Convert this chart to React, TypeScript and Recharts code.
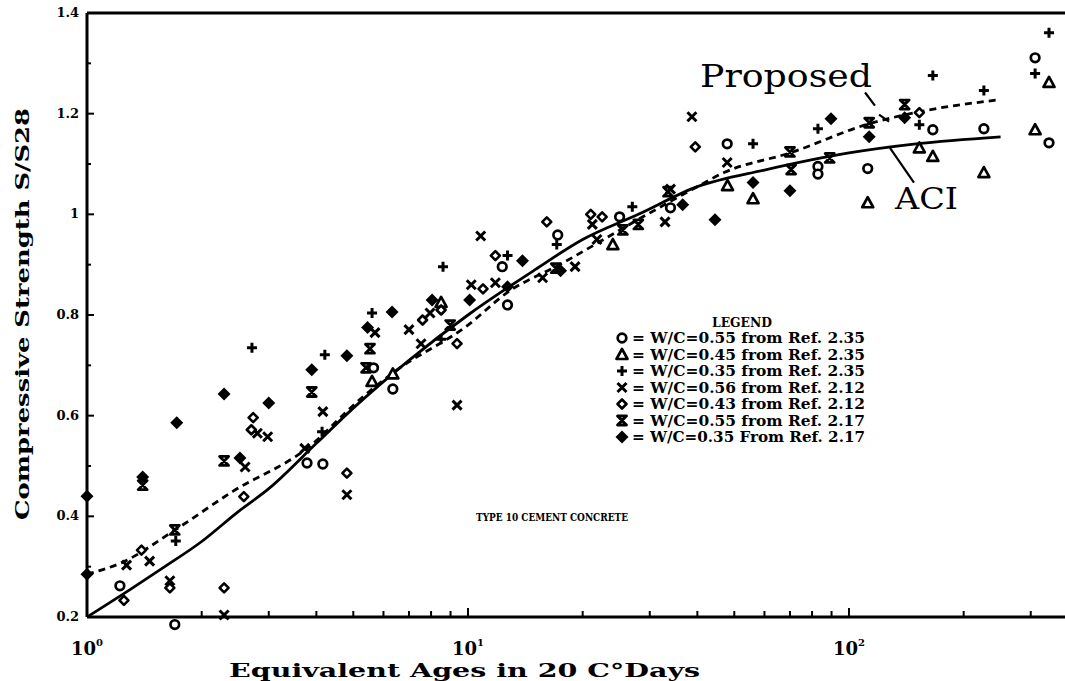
import React from "react";
import {
  ScatterChart,
  Scatter,
  XAxis,
  YAxis,
  ReferenceLine,
  ReferenceDot,
} from "recharts";

// equivalent age (days at 20 C) vs. relative strength S/S28
const wc055Ref235 = [
  { t: 1.22, s: 0.262 }, { t: 3.78, s: 0.506 }, { t: 4.16, s: 0.504 },
  { t: 5.65, s: 0.695 }, { t: 6.35, s: 0.653 }, { t: 12.3, s: 0.896 },
  { t: 12.7, s: 0.82 }, { t: 17.2, s: 0.959 }, { t: 25, s: 0.995 },
  { t: 34, s: 1.013 }, { t: 47.9, s: 1.14 }, { t: 82.9, s: 1.095 },
  { t: 82.9, s: 1.08 }, { t: 112, s: 1.091 }, { t: 166, s: 1.168 },
  { t: 226, s: 1.17 }, { t: 308, s: 1.311 }, { t: 335, s: 1.142 },
];
// one reading sits under the 0.2 line
const wc055Ref235Low = [{ t: 1.7, s: 0.185 }];

const wc045Ref235 = [
  { t: 5.6, s: 0.668 }, { t: 6.35, s: 0.683 }, { t: 8.5, s: 0.825 },
  { t: 24, s: 0.94 }, { t: 48, s: 1.057 }, { t: 56, s: 1.031 },
  { t: 112, s: 1.023 }, { t: 153, s: 1.132 }, { t: 166, s: 1.115 },
  { t: 226, s: 1.083 }, { t: 308, s: 1.168 }, { t: 335, s: 1.262 },
];

const wc035Ref235 = [
  { t: 1.71, s: 0.351 }, { t: 2.71, s: 0.735 }, { t: 4.21, s: 0.721 },
  { t: 4.14, s: 0.568 }, { t: 5.6, s: 0.804 }, { t: 8.6, s: 0.896 },
  { t: 8.5, s: 0.752 }, { t: 12.7, s: 0.918 }, { t: 17.1, s: 0.94 },
  { t: 27, s: 1.015 }, { t: 56, s: 1.14 }, { t: 82.9, s: 1.17 },
  { t: 153, s: 1.178 }, { t: 166, s: 1.276 }, { t: 226, s: 1.246 },
  { t: 308, s: 1.28 }, { t: 335, s: 1.361 },
];

const wc056Ref212 = [
  { t: 1.27, s: 0.303 }, { t: 1.46, s: 0.311 }, { t: 1.65, s: 0.272 },
  { t: 2.29, s: 0.204 }, { t: 2.6, s: 0.498 }, { t: 2.98, s: 0.558 },
  { t: 2.8, s: 0.565 }, { t: 3.73, s: 0.535 }, { t: 4.16, s: 0.608 },
  { t: 4.81, s: 0.443 }, { t: 5.7, s: 0.765 }, { t: 7.0, s: 0.771 },
  { t: 7.53, s: 0.743 }, { t: 7.95, s: 0.804 }, { t: 9.36, s: 0.621 },
  { t: 10.2, s: 0.86 }, { t: 10.8, s: 0.957 }, { t: 11.8, s: 0.864 },
  { t: 15.7, s: 0.874 }, { t: 19.1, s: 0.896 }, { t: 21.2, s: 0.98 },
  { t: 21.8, s: 0.95 }, { t: 32.9, s: 0.985 }, { t: 34, s: 1.05 },
  { t: 38.7, s: 1.194 }, { t: 47.9, s: 1.103 },
];

const wc043Ref212 = [
  { t: 1.39, s: 0.333 }, { t: 1.25, s: 0.233 }, { t: 1.65, s: 0.258 },
  { t: 2.29, s: 0.258 }, { t: 2.73, s: 0.596 }, { t: 2.7, s: 0.572 },
  { t: 2.58, s: 0.439 }, { t: 4.81, s: 0.486 }, { t: 7.6, s: 0.79 },
  { t: 8.5, s: 0.81 }, { t: 9.36, s: 0.743 }, { t: 10.95, s: 0.852 },
  { t: 11.8, s: 0.918 }, { t: 16.1, s: 0.985 }, { t: 21, s: 1.0 },
  { t: 22.5, s: 0.995 }, { t: 39.5, s: 1.134 }, { t: 153, s: 1.202 },
];

const wc055Ref217 = [
  { t: 1.4, s: 0.462 }, { t: 1.7, s: 0.373 }, { t: 2.29, s: 0.51 },
  { t: 3.89, s: 0.647 }, { t: 5.53, s: 0.733 }, { t: 5.4, s: 0.695 },
  { t: 8.98, s: 0.78 }, { t: 17.0, s: 0.893 }, { t: 25.5, s: 0.969 },
  { t: 28, s: 0.98 }, { t: 33.5, s: 1.045 }, { t: 70, s: 1.124 },
  { t: 70.5, s: 1.089 }, { t: 89, s: 1.112 }, { t: 113, s: 1.182 },
  { t: 140, s: 1.218 },
];

const wc035Ref217 = [
  { t: 1, s: 0.44 }, { t: 1, s: 0.285 }, { t: 1.4, s: 0.478 },
  { t: 1.72, s: 0.586 }, { t: 2.29, s: 0.643 }, { t: 2.52, s: 0.516 },
  { t: 3.0, s: 0.625 }, { t: 3.89, s: 0.691 }, { t: 4.81, s: 0.719 },
  { t: 5.45, s: 0.775 }, { t: 6.32, s: 0.806 }, { t: 8.05, s: 0.83 },
  { t: 10.1, s: 0.83 }, { t: 12.7, s: 0.856 }, { t: 13.9, s: 0.908 },
  { t: 17.5, s: 0.888 }, { t: 36.6, s: 1.019 }, { t: 44.5, s: 0.989 },
  { t: 56, s: 1.063 }, { t: 70, s: 1.047 }, { t: 89.7, s: 1.19 },
  { t: 113, s: 1.154 }, { t: 140, s: 1.192 },
];

// strength-gain curves
const aciCurve = [
  { t: 1, s: 0.2 }, { t: 1.3, s: 0.255 }, { t: 1.6, s: 0.3 },
  { t: 2, s: 0.35 }, { t: 2.5, s: 0.41 }, { t: 3, s: 0.455 },
  { t: 4, s: 0.545 }, { t: 5, s: 0.615 }, { t: 7, s: 0.71 },
  { t: 10, s: 0.8 }, { t: 15, s: 0.89 }, { t: 20, s: 0.95 },
  { t: 28, s: 1.0 }, { t: 40, s: 1.055 }, { t: 60, s: 1.088 },
  { t: 100, s: 1.122 }, { t: 150, s: 1.14 }, { t: 250, s: 1.154 },
];

const proposedCurve = [
  { t: 1, s: 0.285 }, { t: 1.25, s: 0.31 }, { t: 1.68, s: 0.37 },
  { t: 2.42, s: 0.45 }, { t: 3.78, s: 0.535 }, { t: 5.2, s: 0.632 },
  { t: 6.35, s: 0.685 }, { t: 10, s: 0.78 }, { t: 12.7, s: 0.845 },
  { t: 17.4, s: 0.9 }, { t: 28, s: 0.99 }, { t: 40, s: 1.055 },
  { t: 47, s: 1.083 }, { t: 70, s: 1.122 }, { t: 113, s: 1.18 },
  { t: 156, s: 1.205 }, { t: 250, s: 1.228 },
];

// leader lines for the curve labels
const proposedLeader = [
  [{ x: 110.2, y: 1.242 }, { x: 117.0, y: 1.216 }],
  [{ x: 119.9, y: 1.198 }, { x: 127.4, y: 1.184 }],
];
const aciLeader = [{ x: 128.1, y: 1.132 }, { x: 148.1, y: 1.063 }];

const xTicks = [1, 2, 3, 4, 5, 6, 7, 8, 9, 10, 20, 30, 40, 50, 60, 70, 80, 90, 100, 200, 300];
const yTicks = [0.2, 0.3, 0.4, 0.5, 0.6, 0.7, 0.8, 0.9, 1.0, 1.1, 1.2, 1.3, 1.4];
const yMajor = ["0.2", "0.4", "0.6", "0.8", "1", "1.2", "1.4"];

const legendRows = [
  "= W/C=0.55 from Ref. 2.35",
  "= W/C=0.45 from Ref. 2.35",
  "= W/C=0.35 from Ref. 2.35",
  "= W/C=0.56 from Ref. 2.12",
  "= W/C=0.43 from Ref. 2.12",
  "= W/C=0.55 from Ref. 2.17",
  "= W/C=0.35 From Ref. 2.17",
];

const FONT = "'DejaVu Serif', serif";
const INK = "#000";

type Pt = { cx?: number; cy?: number };

const OpenCircle = ({ cx = 0, cy = 0 }: Pt) => (
  <circle cx={cx} cy={cy} r={4.3} fill="#fff" stroke={INK} strokeWidth={2.7} />
);
const Triangle = ({ cx = 0, cy = 0 }: Pt) => (
  <path
    d={`M${cx},${cy - 5.5}L${cx + 5.5},${cy + 4.5}L${cx - 5.5},${cy + 4.5}Z`}
    fill="#fff"
    stroke={INK}
    strokeWidth={2.7}
    strokeLinejoin="round"
  />
);
const Plus = ({ cx = 0, cy = 0 }: Pt) => (
  <path d={`M${cx - 5},${cy}H${cx + 5}M${cx},${cy - 5}V${cy + 5}`} stroke={INK} strokeWidth={3} />
);
const Cross = ({ cx = 0, cy = 0 }: Pt) => (
  <path
    d={`M${cx - 4.5},${cy - 4.5}L${cx + 4.5},${cy + 4.5}M${cx + 4.5},${cy - 4.5}L${cx - 4.5},${cy + 4.5}`}
    stroke={INK}
    strokeWidth={3}
  />
);
const SmallRing = ({ cx = 0, cy = 0 }: Pt) => (
  <path
    d={`M${cx},${cy - 4.5}L${cx + 4.5},${cy}L${cx},${cy + 4.5}L${cx - 4.5},${cy}Z`}
    fill="#fff"
    stroke={INK}
    strokeWidth={2.6}
    strokeLinejoin="round"
  />
);
const Bowtie = ({ cx = 0, cy = 0 }: Pt) => (
  <path
    d={`M${cx - 4.5},${cy - 4.5}H${cx + 4.5}L${cx - 4.5},${cy + 4.5}H${cx + 4.5}Z`}
    fill="none"
    stroke={INK}
    strokeWidth={2.8}
    strokeLinejoin="round"
  />
);
const FilledDiamond = ({ cx = 0, cy = 0 }: Pt) => (
  <path d={`M${cx},${cy - 6.5}L${cx + 6.5},${cy}L${cx},${cy + 6.5}L${cx - 6.5},${cy}Z`} fill={INK} />
);
const NoMark = () => <g />;

const legendShapes = [OpenCircle, Triangle, Plus, Cross, SmallRing, Bowtie, FilledDiamond];

const XTick = ({ x = 0, y = 0, payload }: any) => {
  const v = payload.value as number;
  const exp = Math.round(Math.log10(v));
  const major = Math.abs(Math.log10(v) - exp) < 1e-9;
  return (
    <g>
      <line x1={x} y1={y} x2={x} y2={y - (major ? 9 : 6)} stroke={INK} strokeWidth={2} />
      {major && (
        <text x={x} y={y + 38} textAnchor="middle" fontFamily={FONT} fontWeight="bold" fontSize={18} fill={INK}>
          10
          <tspan dy={-9} fontSize={10}>{exp}</tspan>
        </text>
      )}
    </g>
  );
};

const YTick = ({ x = 0, y = 0, payload }: any) => {
  const v = payload.value as number;
  const label = yMajor.find((l) => Math.abs(parseFloat(l) - v) < 1e-6);
  return (
    <g>
      <line x1={x} y1={y} x2={x + (label ? 7 : 4)} y2={y} stroke={INK} strokeWidth={2} />
      {label && (
        <text x={x - 8} y={y + 4} textAnchor="end" fontFamily={FONT} fontWeight="bold" fontSize={13} fill={INK}>
          {label}
        </text>
      )}
    </g>
  );
};

export default function App() {
  return (
    <div style={{ position: "absolute", left: 0, top: 0, width: 1065, height: 681, background: "#fff" }}>
      <ScatterChart width={1065} height={681} margin={{ top: 13, right: 0, bottom: 24, left: 27 }}>
        <XAxis
          type="number"
          dataKey="t"
          scale="log"
          domain={[1, 369]}
          ticks={xTicks}
          interval={0}
          height={40}
          tickSize={0}
          tickMargin={0}
          tickLine={false}
          axisLine={{ stroke: INK, strokeWidth: 3 }}
          tick={<XTick />}
        />
        <YAxis
          type="number"
          dataKey="s"
          domain={[0.2, 1.4]}
          ticks={yTicks}
          interval={0}
          width={60}
          tickSize={0}
          tickMargin={0}
          tickLine={false}
          axisLine={{ stroke: INK, strokeWidth: 3 }}
          tick={<YTick />}
        />
        <ReferenceLine y={1.4} stroke={INK} strokeWidth={3} />

        <Scatter
          data={aciCurve}
          fill={INK}
          line={{ stroke: INK, strokeWidth: 2.8 }}
          lineType="joint"
          lineJointType="monotoneX"
          shape={NoMark}
          isAnimationActive={false}
        />
        <Scatter
          data={proposedCurve}
          fill={INK}
          line={{ stroke: INK, strokeWidth: 2.8, strokeDasharray: "7 5" }}
          lineType="joint"
          lineJointType="monotoneX"
          shape={NoMark}
          isAnimationActive={false}
        />

        <Scatter data={wc055Ref235} shape={OpenCircle} isAnimationActive={false} />
        <Scatter data={wc045Ref235} shape={Triangle} isAnimationActive={false} />
        <Scatter data={wc035Ref235} shape={Plus} isAnimationActive={false} />
        <Scatter data={wc056Ref212} shape={Cross} isAnimationActive={false} />
        <Scatter data={wc043Ref212} shape={SmallRing} isAnimationActive={false} />
        <Scatter data={wc055Ref217} shape={Bowtie} isAnimationActive={false} />
        <Scatter data={wc035Ref217} shape={FilledDiamond} isAnimationActive={false} />

        {wc055Ref235Low.map((p, i) => (
          <ReferenceDot
            key={i}
            x={p.t}
            y={p.s}
            ifOverflow="visible"
            shape={(props: any) => <OpenCircle cx={props.cx} cy={props.cy} />}
          />
        ))}

        {proposedLeader.map((seg, i) => (
          <ReferenceLine key={i} segment={seg} stroke={INK} strokeWidth={2.2} ifOverflow="visible" />
        ))}
        <ReferenceLine segment={aciLeader} stroke={INK} strokeWidth={2.2} ifOverflow="visible" />
      </ScatterChart>

      <svg
        width={1065}
        height={681}
        style={{ position: "absolute", left: 0, top: 0, pointerEvents: "none" }}
        fontFamily={FONT}
        fill={INK}
      >
        <text x={700} y={87} fontSize={31} textLength={172} lengthAdjust="spacingAndGlyphs">Proposed</text>
        <text x={895} y={209} fontSize={29} textLength={63} lengthAdjust="spacingAndGlyphs">ACI</text>

        <text x={712} y={327} fontSize={12} fontWeight="bold" textLength={60} lengthAdjust="spacingAndGlyphs">
          LEGEND
        </text>
        {legendRows.map((row, i) => {
          const Shape = legendShapes[i];
          const cy = 338 + i * 16.5;
          return (
            <g key={row}>
              <Shape cx={622} cy={cy} />
              <text x={632} y={cy + 5} fontSize={14} fontWeight="bold" textLength={233} lengthAdjust="spacingAndGlyphs">
                {row}
              </text>
            </g>
          );
        })}

        <text x={476} y={521} fontSize={11} fontWeight="bold" textLength={152} lengthAdjust="spacingAndGlyphs">
          TYPE 10 CEMENT CONCRETE
        </text>

        <text x={229} y={677} fontSize={18} fontWeight="bold" textLength={471} lengthAdjust="spacingAndGlyphs">
          Equivalent Ages in 20 C°Days
        </text>
        <text
          x={0}
          y={0}
          fontSize={18}
          fontWeight="bold"
          textLength={412}
          lengthAdjust="spacingAndGlyphs"
          transform="translate(29,520) rotate(-90)"
        >
          Compressive Strength S/S28
        </text>
      </svg>
    </div>
  );
}
